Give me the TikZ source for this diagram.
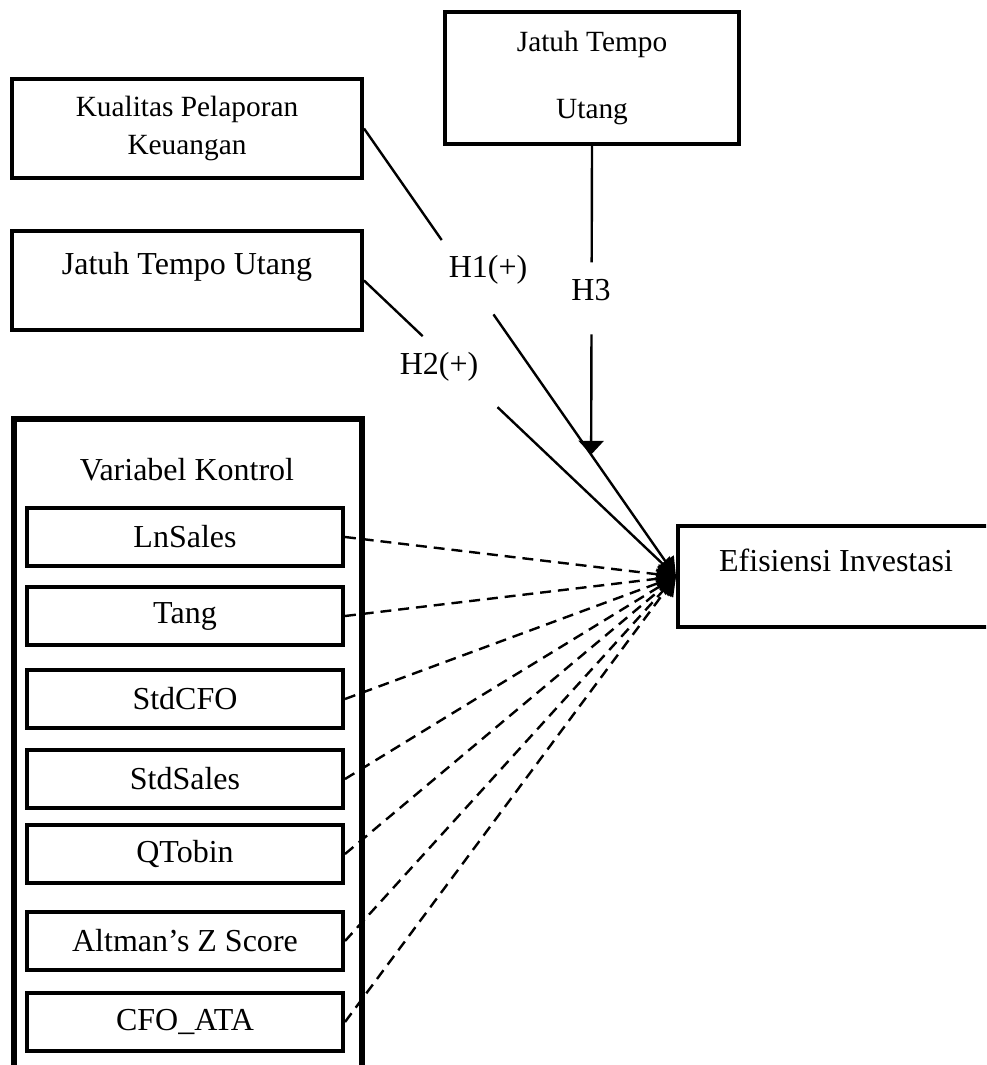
\documentclass[tikz,border=0pt]{standalone}
\usepackage{fontspec}
\setmainfont{Liberation Serif}
\usetikzlibrary{calc,arrows.meta}

\begin{document}
\begin{tikzpicture}[x=0.375pt, y=-0.375pt,
  box/.style={draw, line width=1.5pt, rectangle, align=center, inner sep=0pt},
  ctrl/.style={box, minimum width=118.5pt, minimum height=22.1pt, font=\fontsize{12}{14}\selectfont},
  lbl/.style={font=\fontsize{12}{14}\selectfont},
  link/.style={line width=0.9pt},
  blob/.style={-{Triangle[width=7.5pt,length=7pt]}},
  ctl/.style={link, dash pattern=on 4.1pt off 2.6pt, blob}]
\useasboundingbox (0,0) rectangle (986,1065);
\clip (0,0) rectangle (986,1065);

\node[box, minimum width=131.25pt, minimum height=37.1pt, font=\fontsize{11}{14.6}\selectfont] (kpk) at (187,128.5) {Kualitas Pelaporan\\Keuangan};
\node[box, minimum width=131.25pt, minimum height=36.8pt, font=\fontsize{12}{12.8}\selectfont] (jtu) at (187,280.5) {Jatuh Tempo Utang\\ ~};
\node[box, minimum width=110.25pt, minimum height=49.5pt, font=\fontsize{11}{25}\selectfont] (jt) at (592,78) {Jatuh Tempo\\Utang};
\node[box, minimum width=118.5pt, minimum height=37.9pt, font=\fontsize{12}{12.4}\selectfont] (ei) at (836,576.5) {Efisiensi Investasi\\ ~};

% variabel kontrol
\draw[line width=1.9pt] (14,1070) -- (14,419) -- (362,419) -- (362,1070);
\node[lbl] (vk) at (187,470) {Variabel Kontrol};
\node[ctrl] (c1) at (185,537) {LnSales};
\node[ctrl] (c2) at (185,616) {Tang};
\node[ctrl] (c3) at (185,699) {StdCFO};
\node[ctrl] (c4) at (185,779) {StdSales};
\node[ctrl] (c5) at (185,854) {QTobin};
\node[ctrl] (c6) at (185,941) {Altman’s Z Score};
\node[ctrl] (c7) at (185,1022) {CFO\_ATA};

\foreach \c in {1,...,7}
  \draw[ctl] (c\c.east) -- (ei.west);

% hipotesis
\node[lbl] (h1) at (488,270) {H1(+)};
\node[lbl] (h2) at (439,367) {H2(+)};
\node[lbl] (h3) at (591,290) {H3};

\draw[link] (kpk.east) -- ($(kpk.east)!0.249!(ei.west)$);
\draw[link, blob] ($(kpk.east)!0.415!(ei.west)$) -- (ei.west);
\draw[link] (jtu.east) -- ($(jtu.east)!0.188!(ei.west)$);
\draw[link, blob] ($(jtu.east)!0.428!(ei.west)$) -- (ei.west);

\coordinate (h3end) at ($(kpk.east)!0.728!(ei.west)$);
\draw[link] (jt.south) -- ($(jt.south)!0.377!(h3end)$);
\draw[link, -{Triangle[width=9.4pt,length=5.2pt]}] ($(jt.south)!0.61!(h3end)$) -- (h3end);
\end{tikzpicture}
\end{document}
